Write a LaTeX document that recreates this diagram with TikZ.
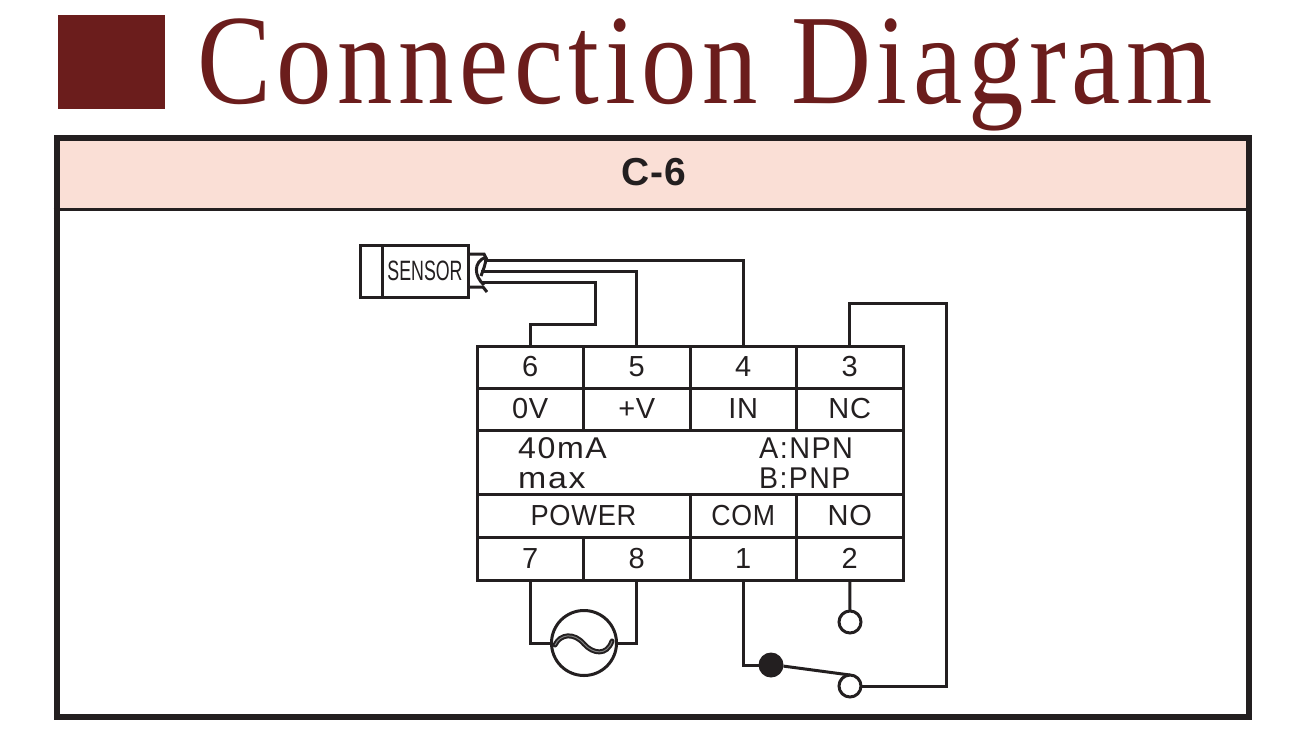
\documentclass[tikz,border=0pt]{standalone}
\usepackage{fontspec}
\setmainfont{Liberation Sans}
\newfontfamily\titlefont[LetterSpace=5]{Liberation Serif}
\newfontfamily\labelfont[LetterSpace=2.5]{Liberation Sans}
\newfontfamily\notefont[LetterSpace=5]{Liberation Sans}
\newfontfamily\codefont[LetterSpace=2.5]{Liberation Sans}
\definecolor{maroon}{HTML}{6B1D1C}
\definecolor{band}{HTML}{FADFD6}
\definecolor{ink}{HTML}{231F20}
\tikzset{
  cell/.style={draw=ink,line width=3pt,rectangle,inner sep=0pt,outer sep=0pt,font=\labelfont\fontsize{29}{29}\selectfont,text=ink},
  wire/.style={draw=ink,line width=3pt,line join=miter},
  term/.style={circle,draw=ink,line width=3pt,fill=white,minimum size=22pt,inner sep=0pt,outer sep=0pt},
  note/.style={anchor=base west,inner sep=0pt,font=\notefont\fontsize{30}{30}\selectfont,text=ink},
}
\begin{document}
\begin{tikzpicture}[x=1pt,y=-1pt]
\useasboundingbox (0,0) rectangle (1290,748);
% title
\node[rectangle,fill=maroon,minimum width=107pt,minimum height=94pt,inner sep=0pt] (sq) at (111.5,62) {};
\node[anchor=base west,inner sep=0pt,text=maroon,font=\titlefont\fontsize{128}{128}\selectfont] (title) at (197,103) {\scalebox{0.866}[1]{Connection Diagram}};
% panel
\node[rectangle,fill=band,draw=none,minimum width=1190pt,minimum height=71pt,inner sep=0pt] (head) at (652.5,174) {};
\node[rectangle,draw=ink,line width=6pt,minimum width=1192pt,minimum height=579pt,inner sep=0pt] (panel) at (652.5,427.5) {};
\draw[ink,line width=3pt] (panel.west |- 0,209) coordinate (hl) -- (panel.east |- 0,209) coordinate (hr);
\node[inner sep=0pt,text=ink,font=\codefont\bfseries\fontsize{39}{39}\selectfont] (cname) at (654,172) {C-6};
% table
\node[cell,minimum width=106.5pt,minimum height=42pt] (c6) at (530.25,367) {6};
\node[cell,minimum width=106.5pt,minimum height=42pt] (c5) at (636.75,367) {5};
\node[cell,minimum width=106.5pt,minimum height=42pt] (c4) at (743.25,367) {4};
\node[cell,minimum width=106.5pt,minimum height=42pt] (c3) at (849.75,367) {3};
\node[cell,minimum width=106.5pt,minimum height=42pt] (l0) at (530.25,409) {0V};
\node[cell,minimum width=106.5pt,minimum height=42pt] (lv) at (636.75,409) {+V};
\node[cell,minimum width=106.5pt,minimum height=42pt] (lin) at (743.25,409) {IN};
\node[cell,minimum width=106.5pt,minimum height=42pt] (lnc) at (849.75,409) {NC};
\node[cell,minimum width=426pt,minimum height=64pt] (mid) at (690,462) {};
\node[note] (n40) at (518,458) {\scalebox{1.07}[1]{40mA}};
\node[note] (nmax) at (518,488) {\scalebox{1.13}[1]{max}};
\node[note] (nnpn) at (759,458) {\scalebox{0.96}[1]{A:NPN}};
\node[note] (npnp) at (759,488) {\scalebox{0.95}[1]{B:PNP}};
\node[cell,minimum width=213pt,minimum height=43pt] (lpow) at (583.5,515.5) {\scalebox{0.94}[1]{POWER}};
\node[cell,minimum width=106.5pt,minimum height=43pt] (lcom) at (743.25,515.5) {\scalebox{0.92}[1]{COM}};
\node[cell,minimum width=106.5pt,minimum height=43pt] (lno) at (849.75,515.5) {NO};
\node[cell,minimum width=106.5pt,minimum height=43pt] (c7) at (530.25,558.5) {7};
\node[cell,minimum width=106.5pt,minimum height=43pt] (c8) at (636.75,558.5) {8};
\node[cell,minimum width=106.5pt,minimum height=43pt] (c1) at (743.25,558.5) {1};
\node[cell,minimum width=106.5pt,minimum height=43pt] (c2) at (849.75,558.5) {2};
% sensor
\node[cell,minimum width=22pt,minimum height=52pt] (cap) at (371,271) {};
\node[cell,minimum width=86pt,minimum height=52pt,font=\fontsize{28}{28}\selectfont] (sensor) at (425,271) {\scalebox{0.635}[1]{SENSOR}};
\draw[ink,line width=3pt] (sensor.east |- 0,254) -- (484,254) -- (487,260);
\draw[ink,line width=3pt] (sensor.east |- 0,287) -- (483,287) -- (487,292);
\draw[ink,line width=3pt] (486,257) .. controls (473,262) and (474,276) .. (484,285);
\draw[ink,line width=3pt] (486,257) .. controls (486,264) and (483,270) .. (481,276);
% sensor wires
\coordinate (w4) at (486,260);
\coordinate (w5) at (481,271);
\coordinate (w6) at (482,282);
\draw[wire] (w4) -- (c4.north |- w4) -- (c4.north);
\draw[wire] (w5) -- (c5.north |- w5) -- (c5.north);
\draw[wire] (w6) -- (595,282) -- (595,324) -- (c6.north |- 0,324) -- (c6.north);
% power
\node[circle,draw=ink,line width=3pt,fill=white,minimum size=65pt,inner sep=0pt,outer sep=0pt] (ac) at (584,643) {};
\draw[wire] (c7.south) |- (ac.west);
\draw[wire] (c8.south) |- (ac.east);
\draw[ink,line width=5pt,line cap=round] (555,645) .. controls (560,634) and (574,632) .. (584,644) .. controls (593,654) and (607,656) .. (612,641);
\draw[gray,line width=1pt] (555,645) .. controls (560,634) and (574,632) .. (584,644) .. controls (593,654) and (607,656) .. (612,641);
% switch
\node[term] (tno) at (850,622) {};
\node[term] (tnc) at (850,686) {};
\node[circle,fill=ink,minimum size=25pt,inner sep=0pt,outer sep=0pt] (pivot) at (771,665) {};
\draw[wire] (c2.south) -- (tno.north);
\draw[wire] (c1.south) |- (pivot.west);
\draw[wire] (pivot.-5) -- (tnc.north);
\draw[wire] (c3.north) -- (c3.north |- 0,303) -- (946,303) -- (946,686) -- (tnc.east);
\end{tikzpicture}
\end{document}
